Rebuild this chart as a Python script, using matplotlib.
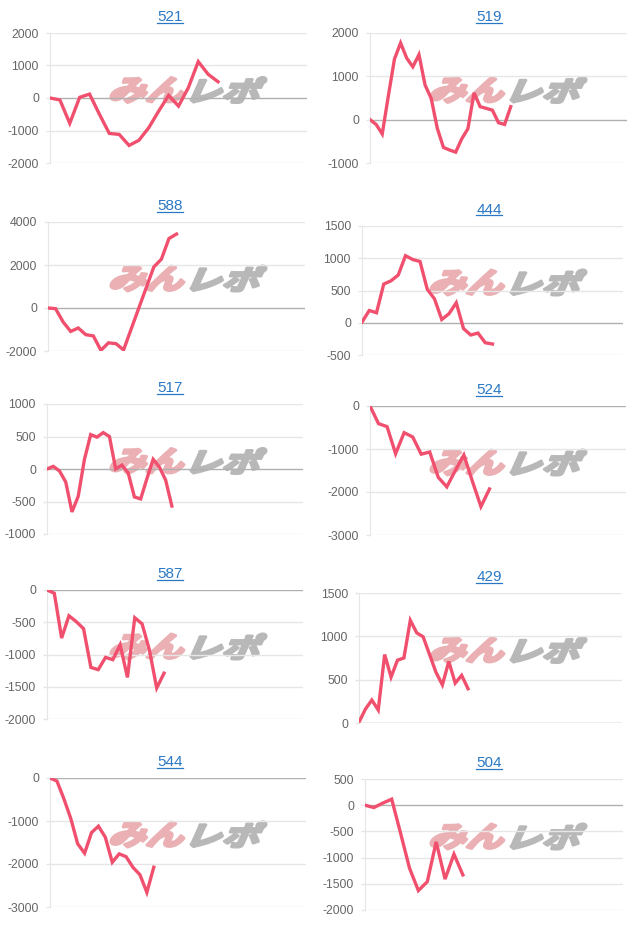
import numpy as np
import matplotlib
matplotlib.use("Agg")
import matplotlib.pyplot as plt
from matplotlib.textpath import TextPath
from matplotlib.font_manager import FontProperties
from matplotlib.patches import PathPatch
from matplotlib.transforms import Affine2D
from matplotlib.lines import Line2D

# machine numbers (chart titles) and their difference series
titles = ["521", "519", "588", "444", "517", "524", "587", "429", "544", "504"]

s521 = [0, -60, -780, 20, 120, -500, -1090, -1120, -1460, -1300, -910, -400, 80, -250, 320, 1120, 730, 500]
s519 = [0, -110, -330, 550, 1400, 1770, 1420, 1220, 1500, 800, 490, -200, -640, -700, -750, -440, -210,
        620, 300, 260, 220, -70, -110, 300]
s588 = [0, -30, -650, -1090, -930, -1240, -1300, -1970, -1620, -1660, -1950, -980, -15, 950, 1910, 2270, 3230, 3440]
s444 = [10, 190, 155, 600, 650, 740, 1040, 980, 950, 520, 370, 50, 140, 310, -90, -190, -160, -310, -330]
s517 = [0, 40, -30, -200, -660, -420, 150, 530, 490, 560, 500, 0, 60, -60, -430, -460, -150, 150, 30, -170, -570]
s524 = [0, -410, -480, -1110, -620, -720, -1120, -1070, -1660, -1880, -1500, -1140, -1750, -2340, -1930]
s587 = [0, -50, -745, -400, -490, -600, -1200, -1235, -1045, -1080, -850, -1355, -430, -525, -930, -1520, -1290]
s429 = [10, 160, 265, 150, 790, 530, 725, 750, 1185, 1040, 995, 790, 585, 440, 710, 460, 550, 395]
s544 = [0, -70, -480, -940, -1530, -1750, -1270, -1120, -1380, -1960, -1765, -1830, -2080, -2250, -2660, -2075]
s504 = [0, -45, 40, 115, -535, -1200, -1630, -1460, -700, -1410, -935, -1330]

series = [s521, s519, s588, s444, s517, s524, s587, s429, s544, s504]

# axis settings: (ymin, ymax, step), x range length
y_axes = [(-2000, 2000, 1000), (-1000, 2000, 1000), (-2000, 4000, 2000), (-500, 1500, 500), (-1000, 1000, 500),
          (-3000, 0, 1000), (-2000, 0, 500), (0, 1500, 500), (-3000, 0, 1000), (-2000, 500, 500)]
x_len = [26, 42, 34, 36, 41, 30, 35, 41, 37, 29]

# plot boxes in pixels: left, top, right, bottom
boxes = [(50, 33, 307, 163), (370, 33, 627, 163),
         (48, 222, 305, 351), (362, 226, 623, 355),
         (47, 404, 303, 534), (370, 406, 626, 535),
         (47, 590, 303, 719), (359, 593, 622, 723),
         (50, 778, 306, 907), (365, 779, 623, 910)]

W, H = 640, 931
LINE = "#f0506e"
GRID = "#e6e6e6"

fig = plt.figure(figsize=(W / 100, H / 100), dpi=100)
px = Affine2D().scale(1 / W, 1 / H) + fig.transFigure

# watermark glyphs
fp = FontProperties(family="Noto Sans CJK JP", weight="bold")
skew = Affine2D().skew_deg(18, 0)
wm_a = skew.transform_path(TextPath((0, 0), "みん", size=1, prop=fp))
wm_b = skew.transform_path(TextPath((0, 0), "レポ", size=1, prop=fp))


def fit_path(path, x0, x1, ytop, ybot):
    ext = path.get_extents()
    t = (Affine2D().translate(-ext.x0, -ext.y0)
         .scale((x1 - x0) / ext.width, (ybot - ytop) / ext.height)
         .translate(x0, H - ybot))
    return t.transform_path(path)


title_objs = []
for i, (name, vals) in enumerate(zip(titles, series)):
    l, t, r, b = boxes[i]
    ax = fig.add_axes([l / W, 1 - b / H, (r - l) / W, (b - t) / H])
    ax.set_facecolor("none")
    ymin, ymax, step = y_axes[i]
    x = np.arange(len(vals))
    ax.plot(x, vals, color=LINE, lw=2.4, solid_joinstyle="miter", zorder=3)
    ax.set_xlim(0, x_len[i])
    ax.set_ylim(ymin, ymax)
    ticks = np.arange(ymin, ymax + step, step)
    ax.set_yticks(ticks)
    ax.set_yticklabels([str(v) for v in ticks])
    ax.set_xticks([])
    for v in ticks:
        ax.axhline(v, color="#b0b0b0" if v == 0 else GRID, lw=1, zorder=1)
    for side in ["top", "right", "bottom"]:
        ax.spines[side].set_visible(False)
    ax.spines["left"].set_color(GRID)
    ax.tick_params(axis="y", length=3, width=1, color=GRID, pad=5, labelsize=8.8, labelcolor="#666666")
    for lab in ax.get_yticklabels():
        lab.set_family("Liberation Sans")

    # title
    cx = 170 if i % 2 == 0 else 489
    tt = fig.text(cx / W, 1 - (t - 12) / H, name, ha="center", va="baseline",
                  fontsize=11, color="#2a78c4", family="Liberation Sans")
    title_objs.append((tt, t - 12))

    # watermark
    wx = 188 if i % 2 == 0 else 508
    wy = (t + b) / 2 - 8
    pa = fit_path(wm_a, wx - 77, wx - 4, wy - 12.5, wy + 12.5)
    pb = fit_path(wm_b, wx + 3, wx + 78, wy - 12.5, wy + 12.5)
    fig.add_artist(PathPatch(pa, transform=px, facecolor="#eab0b4", edgecolor="#eab0b4",
                             lw=2.2, joinstyle="round", zorder=-1))
    fig.add_artist(PathPatch(pb, transform=px, facecolor="#b8b8b8", edgecolor="#b8b8b8",
                             lw=2.2, joinstyle="round", zorder=-1))

# underline the titles like links
fig.canvas.draw()
for tt, base in title_objs:
    bb = tt.get_window_extent()
    fig.add_artist(Line2D([bb.x0 / W, bb.x1 / W], [1 - (base + 1.5) / H] * 2,
                          transform=fig.transFigure, color="#2a78c4", lw=0.9))

fig.savefig("out.png", dpi=100)
